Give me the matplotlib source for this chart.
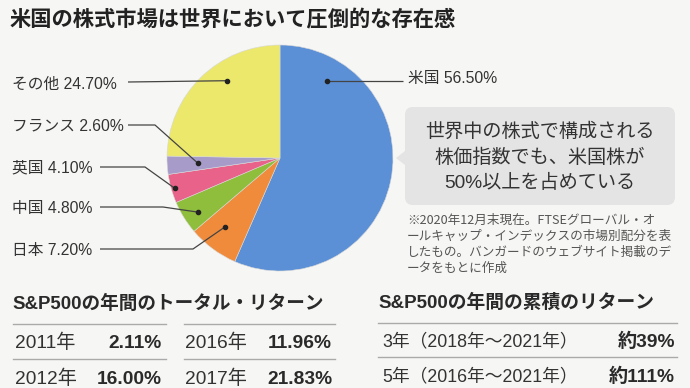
import numpy as np
import matplotlib

matplotlib.use("Agg")
import matplotlib.pyplot as plt
from matplotlib.patches import FancyBboxPatch, Polygon

plt.rcParams["font.family"] = ["Noto Sans CJK JP", "DejaVu Sans"]
MIXED = ["Liberation Sans", "Noto Sans CJK JP"]  # Helvetica-like digits, CJK fallback

# --- DATA

countries = ["米国", "日本", "中国", "英国", "フランス", "その他"]
shares = [56.50, 7.20, 4.80, 4.10, 2.60, 24.70]
colors = ["#5b8fd6", "#f08b3b", "#8fbd3c", "#e8628a", "#a79bca", "#ebe86b"]

years_a = ["2011年", "2012年"]
returns_a = ["2.11%", "16.00%"]
years_b = ["2016年", "2017年"]
returns_b = ["11.96%", "21.83%"]
cum_periods = ["3年（2018年～2021年）", "5年（2016年～2021年）"]
cum_returns = ["約39%", "約111%"]

title = "米国の株式市場は世界において圧倒的な存在感"
callout = ["世界中の株式で構成される", "株価指数でも、米国株が", "50%以上を占めている"]
note = [
    "※2020年12月末現在。FTSEグローバル・オ",
    "ールキャップ・インデックスの市場別配分を表",
    "したもの。バンガードのウェブサイト掲載のデ",
    "ータをもとに作成",
]

# --- LAYOUT (pixels, y down)

W, H = 690, 388
BG = "#f6f6f4"
TXT = "#333333"
CX, CY, R = 280, 158, 113

# label: (text x, text y, line start x, elbow x, dot angle deg, dot radius frac)
LABELS = {
    "米国": (408, 79, None, None, 58.6, 0.80),
    "日本": (12, 250, 100, 193, 231.4, 0.78),
    "中国": (12, 208, 100, 163, 213.4, 0.87),
    "英国": (12, 168, 100, 145, 196.0, 0.97),
    "フランス": (12, 126, 128, 155, 183.5, 0.73),
    "その他": (12, 84, 128, None, 124.5, 0.83),
}


def main():
    fig = plt.figure(figsize=(W / 100, H / 100), dpi=100, facecolor=BG)

    # pie
    pax = fig.add_axes([(CX - R) / W, (H - CY - R) / H, 2 * R / W, 2 * R / H])
    pax.pie(shares, colors=colors, startangle=90, counterclock=False, radius=1,
            wedgeprops=dict(linewidth=0.4, edgecolor="#d8d8d8"))
    pax.set_xlim(-1, 1)
    pax.set_ylim(-1, 1)
    pax.set_axis_off()

    # overlay in pixel coords
    ov = fig.add_axes([0, 0, 1, 1], zorder=3)
    ov.set_xlim(0, W)
    ov.set_ylim(H, 0)
    ov.set_axis_off()
    ov.patch.set_alpha(0)

    ov.text(10, 20, title, fontsize=15.3, fontweight="bold", color="#222222", va="center")

    # pie labels with leader lines
    for name, share in zip(countries, shares):
        tx, ty, x0, xe, ang, rf = LABELS[name]
        dx = CX + rf * R * np.cos(np.radians(ang))
        dy = CY - rf * R * np.sin(np.radians(ang))
        if x0 is None:  # label on the right
            xs, ys = [dx, tx - 5], [dy, dy]
        elif xe is None:
            xs, ys = [x0, dx], [ty - 2, dy]
        else:
            xs, ys = [x0, xe, dx], [ty - 1, ty - 1, dy]
        ov.plot(xs, ys, color="#444444", lw=0.9, solid_capstyle="butt")
        ov.plot(dx, dy, "o", color="#222222", ms=3)
        ov.text(tx, ty, f"{name} {share:.2f}%", fontsize=11.3, color=TXT, va="center",
                family=MIXED)

    # callout box
    ov.add_patch(FancyBboxPatch((405, 107), 270, 98, boxstyle="round,pad=0,rounding_size=8",
                                facecolor="#e4e4e4", edgecolor="none"))
    ov.add_patch(Polygon([(405, 151), (396, 158), (405, 165)], closed=True,
                         facecolor="#e4e4e4", edgecolor="none"))
    for i, line in enumerate(callout):
        ov.text(540, 132 + i * 25.5, line, fontsize=13.8, color=TXT, ha="center", va="center",
                family=MIXED)

    for i, line in enumerate(note):
        ov.text(407, 220 + i * 16.2, line, fontsize=9.1, color="#555555", va="center")

    # table: annual total return
    ov.text(12, 304, "S&P500の年間のトータル・リターン", fontsize=13.4, fontweight="bold",
            color="#2a2a2a", va="center", family=MIXED)
    for ly in (324, 359):
        ov.plot([13, 166], [ly, ly], color="#aaaaaa", lw=1)
        ov.plot([184, 335], [ly, ly], color="#aaaaaa", lw=1)
    for i in range(2):
        ry = 343 + i * 36
        ov.text(15, ry, years_a[i], fontsize=13.8, color=TXT, va="center", family=MIXED)
        ov.text(162, ry, returns_a[i], fontsize=13.8, fontweight="bold", color="#2a2a2a",
                va="center", ha="right", family=MIXED)
        ov.text(185, ry, years_b[i], fontsize=13.8, color=TXT, va="center", family=MIXED)
        ov.text(332, ry, returns_b[i], fontsize=13.8, fontweight="bold", color="#2a2a2a",
                va="center", ha="right", family=MIXED)

    # table: cumulative return
    ov.text(378, 303, "S&P500の年間の累積のリターン", fontsize=13.5, fontweight="bold",
            color="#2a2a2a", va="center", family=MIXED)
    for ly in (323, 357):
        ov.plot([378, 677], [ly, ly], color="#aaaaaa", lw=1)
    for i in range(2):
        ry = 342 + i * 35
        ov.text(382, ry, cum_periods[i], fontsize=12.8, color=TXT, va="center", family=MIXED)
        ov.text(675, ry, cum_returns[i], fontsize=13.8, fontweight="bold", color="#2a2a2a",
                va="center", ha="right", family=MIXED)

    fig.savefig("out.png", dpi=100, facecolor=BG)


if __name__ == "__main__":
    main()
